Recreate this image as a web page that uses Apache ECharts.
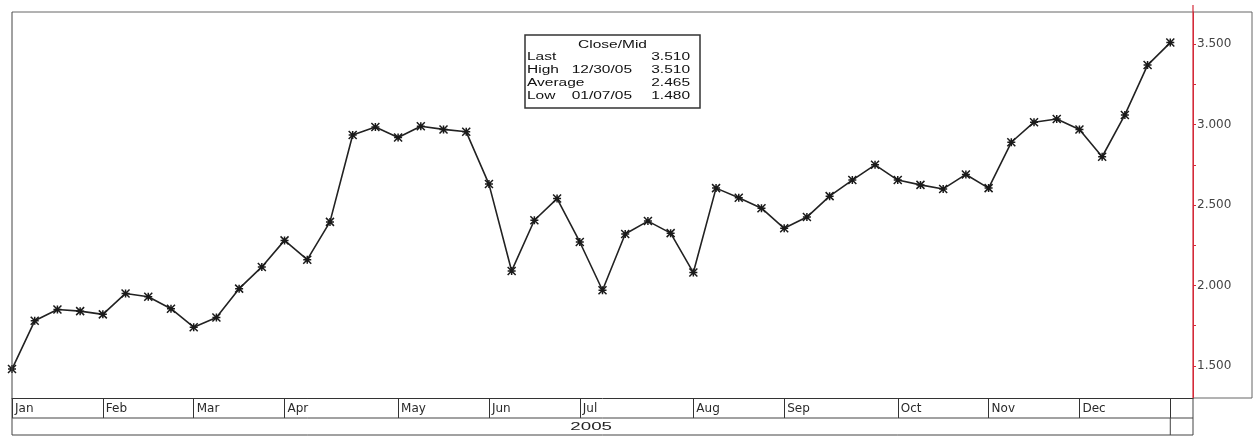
<!DOCTYPE html>
<html>
<head>
<meta charset="utf-8">
<script src="https://cdn.jsdelivr.net/npm/echarts@6/dist/echarts.min.js"></script>
<style>
html,body{margin:0;padding:0;background:#fff;}
#chart{width:1259px;height:445px;}
</style>
</head>
<body>
<div id="chart"></div>
<script>
// Weekly dates (Fridays) 2005 plus one trailing slot
const dates = [
 '2005-01-07','2005-01-14','2005-01-21','2005-01-28',
 '2005-02-04','2005-02-11','2005-02-18','2005-02-25',
 '2005-03-04','2005-03-11','2005-03-18','2005-03-25',
 '2005-04-01','2005-04-08','2005-04-15','2005-04-22','2005-04-29',
 '2005-05-06','2005-05-13','2005-05-20','2005-05-27',
 '2005-06-03','2005-06-10','2005-06-17','2005-06-24',
 '2005-07-01','2005-07-08','2005-07-15','2005-07-22','2005-07-29',
 '2005-08-05','2005-08-12','2005-08-19','2005-08-26',
 '2005-09-02','2005-09-09','2005-09-16','2005-09-23','2005-09-30',
 '2005-10-07','2005-10-14','2005-10-21','2005-10-28',
 '2005-11-04','2005-11-11','2005-11-18','2005-11-25',
 '2005-12-02','2005-12-09','2005-12-16','2005-12-23','2005-12-30',
 '2006-01-06'
];
const closeMid = [
 1.48, 1.78, 1.85, 1.84, 1.82, 1.95, 1.93, 1.855, 1.74, 1.80,
 1.98, 2.115, 2.28, 2.16, 2.395, 2.935, 2.985, 2.92, 2.99, 2.97,
 2.955, 2.63, 2.09, 2.405, 2.54, 2.27, 1.97, 2.32, 2.40, 2.325,
 2.08, 2.605, 2.545, 2.48, 2.355, 2.425, 2.555, 2.655, 2.75, 2.655,
 2.625, 2.60, 2.69, 2.605, 2.89, 3.015, 3.035, 2.97, 2.80, 3.06,
 3.37, 3.51
];
const monthNames = ['Jan','Feb','Mar','Apr','May','Jun','Jul','Aug','Sep','Oct','Nov','Dec'];
const monthStartIdx = [0,4,8,12,17,21,25,30,34,39,43,47];
const endDividerIdx = 51;
const yearLabels = ['2005'];
const yLabelValues = [1.5, 2.0, 2.5, 3.0, 3.5];
const yTickValues = [1.5, 1.75, 2.0, 2.25, 2.5, 2.75, 3.0, 3.25, 3.5];
const legendTitle = 'Close/Mid';
const statRows = [
 ['Last', '', '3.510'],
 ['High', '12/30/05', '3.510'],
 ['Average', '', '2.465'],
 ['Low', '01/07/05', '1.480']
];

const FONT = '"Liberation Sans", Arial, sans-serif';
const AXFONT = '"DejaVu Sans", sans-serif';
const RED = '#d42a3a';
const G = {left:12, top:12, right:1193, bottom:398};
const chart = echarts.init(document.getElementById('chart'), null, {renderer:'canvas'});

const tickSet = monthStartIdx.concat([endDividerIdx]);

chart.setOption({
  animation:false,
  backgroundColor:'#fff',
  grid:{left:G.left, top:G.top, right:1259-G.right, bottom:445-G.bottom, containLabel:false},
  xAxis:{
    type:'category', data:dates, boundaryGap:false,
    axisLine:{show:true, onZero:false, lineStyle:{color:'#333', width:1}},
    axisTick:{show:true, length:20, interval:(i)=>tickSet.indexOf(i)>=0, lineStyle:{color:'#333', width:1}},
    axisLabel:{
      interval:(i)=>monthStartIdx.indexOf(i)>=0,
      formatter:(v)=>monthNames[parseInt(v.slice(5,7),10)-1],
      align:'left', padding:[0,0,0,3], margin:5,
      fontFamily:AXFONT, fontSize:12, color:'#2a2a2a'
    },
    splitLine:{show:false}
  },
  yAxis:{
    type:'value', position:'right', min:1.3, max:3.7,
    axisLine:{show:true, onZero:false, lineStyle:{color:RED, width:1}},
    axisTick:{show:true, customValues:yTickValues, length:3, lineStyle:{color:RED}},
    axisLabel:{customValues:yLabelValues, formatter:(v)=>v.toFixed(3), margin:4,
      fontFamily:AXFONT, fontSize:12, color:'#444'},
    splitLine:{show:false}
  },
  series:[{
    type:'line', data:closeMid, showAllSymbol:true,
    symbol:'path://M0,0L10,10M10,0L0,10M5,0L5,10M0,5L10,5',
    symbolSize:8,
    itemStyle:{color:'#1a1a1a', borderColor:'#1a1a1a', borderWidth:1.5},
    lineStyle:{color:'#222', width:1.6},
    z:3
  }]
});

const xDiv = chart.convertToPixel({xAxisIndex:0}, dates[endDividerIdx]);
const lineStyle = {stroke:'#444', lineWidth:1};
const ln = (x1,y1,x2,y2,st,z)=>({type:'line', shape:{x1,y1,x2,y2}, style:st||lineStyle, z:z||50, silent:true});

const lx = 525, ly = 35, lw = 175, lh = 73;
const SX = 1.55;
const tx = (x,y,text,align,size)=>({type:'text', x, y, scaleX:SX, style:{text, font:(size||10)+'px '+FONT, fill:'#111', align, verticalAlign:'middle'}, z:61});
const legendChildren = [
  {type:'rect', shape:{x:lx, y:ly, width:lw, height:lh}, style:{fill:'#fff', stroke:'#333', lineWidth:1.5}, z:60},
  tx(lx+lw/2, ly+10, legendTitle, 'center')
];
statRows.forEach((r,i)=>{
  const yy = ly + 22 + i*13.2;
  legendChildren.push(tx(lx+2, yy, r[0], 'left'));
  if (r[1]) legendChildren.push(tx(lx+107, yy, r[1], 'right'));
  legendChildren.push(tx(lx+lw-10, yy, r[2], 'right'));
});

chart.setOption({
  graphic:[
    // outer frame
    ln(G.left, G.top, 1252, G.top, {stroke:'#666', lineWidth:1}),
    ln(1252, G.top, 1252, G.bottom, {stroke:'#666', lineWidth:1}),
    ln(G.right, G.bottom, 1252, G.bottom, {stroke:'#666', lineWidth:1}),
    ln(G.left, G.top, G.left, 435),
    // table
    ln(G.left, 418, G.right, 418),
    ln(G.left, 435, G.right, 435),
    ln(G.right, G.bottom, G.right, 435),
    ln(xDiv, 418, xDiv, 435),
    // red axis line (full height incl. small top extension)
    ln(G.right, 5, G.right, G.bottom, {stroke:RED, lineWidth:1.2}, 55),
    {type:'text', x:(G.left + xDiv)/2, y:427, scaleX:1.7, style:{text:yearLabels[0], font:'11px '+FONT, fill:'#222', align:'center', verticalAlign:'middle'}, z:50},
    {type:'group', children:legendChildren}
  ]
});
</script>
</body>
</html>
